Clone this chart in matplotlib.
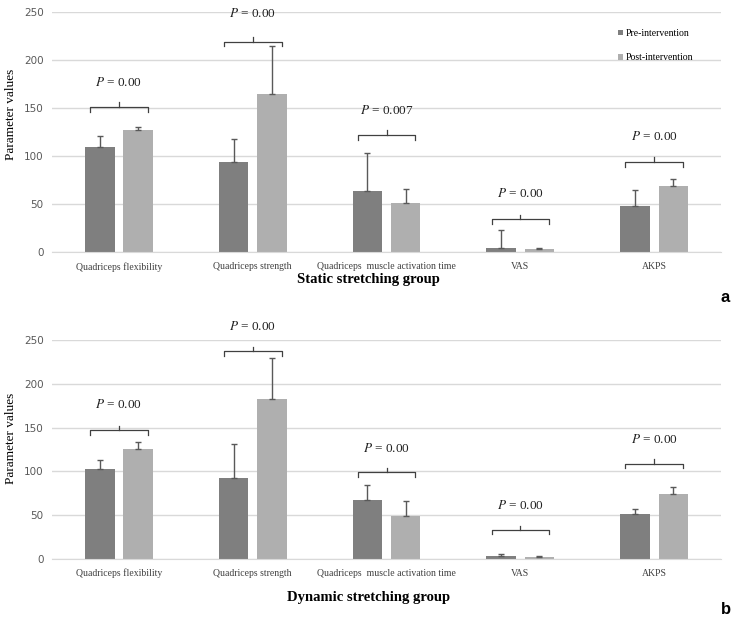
import matplotlib
matplotlib.use("Agg")
from matplotlib import pyplot as plt
import numpy as np

plt.rcParams["font.family"] = ["Liberation Serif", "DejaVu Serif"]
plt.rcParams["mathtext.fontset"] = "stix"

categories = ["Quadriceps flexibility", "Quadriceps strength",
              "Quadriceps  muscle activation time", "VAS", "AKPS"]
series_names = ["Pre-intervention", "Post-intervention"]

# static stretching group (a)
static_pre = [109, 94, 64, 4, 48]
static_pre_sd = [12, 24, 39, 19, 17]
static_post = [127, 164, 51, 3, 69]
static_post_sd = [3, 50, 15, 1.5, 7]
static_p = ["0.00", "0.00", "0.007", "0.00", "0.00"]

# dynamic stretching group (b)
dynamic_pre = [103, 93, 67, 4, 51]
dynamic_pre_sd = [10, 38, 17, 2, 6]
dynamic_post = [126, 183, 49, 2, 74]
dynamic_post_sd = [8, 46, 17, 1.5, 8]
dynamic_p = ["0.00", "0.00", "0.00", "0.00", "0.00"]

# where the significance brackets / P labels sit (data units)
static_bracket_y = [151, 219, 122, 34, 94]
static_text_y = [176, 248, 147, 61, 120]
dynamic_bracket_y = [147, 237, 99, 33, 109]
dynamic_text_y = [176, 265, 126, 61, 136]

PRE_COLOR = "#7f7f7f"
POST_COLOR = "#afafaf"
ERR_COLOR = "#595959"


def draw_panel(ax, pre, pre_sd, post, post_sd, pvals, bracket_y, text_y, legend=False):
    x = np.arange(len(categories))
    w = 0.22
    off = 0.143
    ax.bar(x - off, pre, w, color=PRE_COLOR, label=series_names[0], zorder=2)
    ax.bar(x + off, post, w, color=POST_COLOR, label=series_names[1], zorder=2)
    ax.errorbar(x - off, pre, yerr=[np.zeros(len(pre)), pre_sd], fmt="none",
                ecolor=ERR_COLOR, elinewidth=1, capsize=2.5, capthick=1, zorder=3)
    ax.errorbar(x + off, post, yerr=[np.zeros(len(post)), post_sd], fmt="none",
                ecolor=ERR_COLOR, elinewidth=1, capsize=2.5, capthick=1, zorder=3)

    # brackets with P values
    half = 0.215
    for xi, by, ty, p in zip(x, bracket_y, text_y, pvals):
        ax.plot([xi - half, xi - half, xi + half, xi + half],
                [by - 5, by, by, by - 5], color="#404040", lw=0.9, zorder=3)
        ax.plot([xi, xi], [by, by + 5], color="#404040", lw=0.9, zorder=3)
        ax.text(xi, ty, "$P$ = " + p, ha="center", va="center", fontsize=9.5,
                color="#222222")

    ax.set_xlim(-0.5, len(categories) - 0.5)
    ax.set_ylim(0, 250)
    ax.set_yticks(np.arange(0, 251, 50))
    ax.yaxis.grid(True, color="#d9d9d9", lw=1, zorder=0)
    ax.set_axisbelow(True)
    for s in ["top", "right", "left"]:
        ax.spines[s].set_visible(False)
    ax.spines["bottom"].set_color("#d9d9d9")
    ax.tick_params(axis="y", length=0, labelsize=7.5, labelcolor="#595959", pad=6)
    ax.tick_params(axis="x", length=0, pad=7)
    ax.set_xticks(x)
    ax.set_xticklabels(categories, fontsize=7, color="#404040")
    for lbl in ax.get_yticklabels():
        lbl.set_fontfamily("DejaVu Sans")
    if legend:
        ax.legend(loc="upper left", bbox_to_anchor=(0.84, 0.945), frameon=False,
                  fontsize=7, handlelength=0.5, handleheight=0.5, handletextpad=0.3,
                  labelspacing=1.6, borderaxespad=0)


fig = plt.figure(figsize=(7.36, 6.21), dpi=100)
ax1 = fig.add_axes([0.0707, 0.594, 0.909, 0.387])
ax2 = fig.add_axes([0.0707, 0.0998, 0.909, 0.3527])

draw_panel(ax1, static_pre, static_pre_sd, static_post, static_post_sd,
           static_p, static_bracket_y, static_text_y, legend=True)
draw_panel(ax2, dynamic_pre, dynamic_pre_sd, dynamic_post, dynamic_post_sd,
           dynamic_p, dynamic_bracket_y, dynamic_text_y)

fig.text(0.015, 1 - 114 / 621, "Parameter values", rotation=90, ha="center",
         va="center", fontsize=9.5)
fig.text(0.015, 1 - 438 / 621, "Parameter values", rotation=90, ha="center",
         va="center", fontsize=9.5)
fig.text(0.501, 1 - 280 / 621, "Static stretching group", ha="center", va="center",
         fontsize=10.5, fontweight="bold")
fig.text(0.501, 1 - 598 / 621, "Dynamic stretching group", ha="center", va="center",
         fontsize=10.5, fontweight="bold")
fig.text(0.985, 1 - 298 / 621, "a", ha="center", va="center", fontsize=12,
         fontweight="bold", family="Liberation Sans")
fig.text(0.987, 1 - 610 / 621, "b", ha="center", va="center", fontsize=12,
         fontweight="bold", family="Liberation Sans")

fig.savefig("out.png", dpi=100)
